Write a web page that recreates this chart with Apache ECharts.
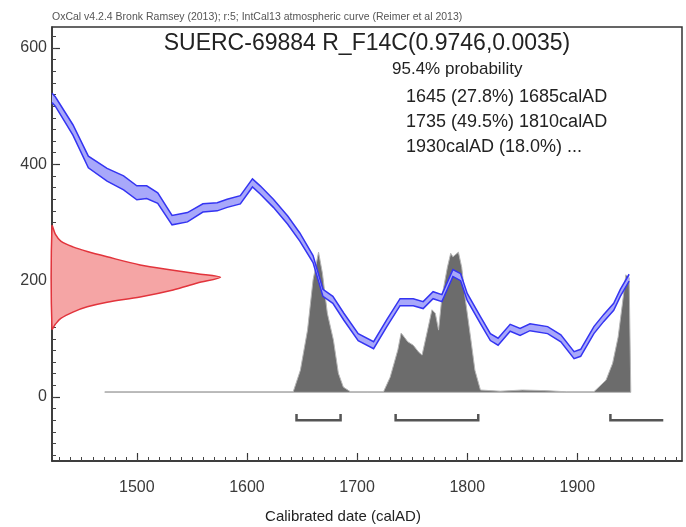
<!DOCTYPE html>
<html>
<head>
<meta charset="utf-8">
<script src="https://cdn.jsdelivr.net/npm/echarts@6/dist/echarts.min.js"></script>
<style>
  html, body { margin: 0; padding: 0; background: #fff; }
  #main { width: 686px; height: 527px; }
</style>
</head>
<body>
<div id="main"></div>
<script>
// calibration curve (IntCal13), 14C age BP
var calYears = [1423, 1426, 1442, 1456, 1473, 1488, 1500, 1509, 1519, 1532, 1546, 1560, 1573, 1582, 1594, 1605, 1612, 1624, 1637, 1648,
  1660, 1669, 1678, 1688, 1701, 1715, 1727, 1739, 1751, 1760, 1769, 1777, 1787, 1794, 1800, 1812, 1821, 1828, 1839, 1848,
  1857, 1873, 1885, 1897, 1903, 1915, 1924, 1933, 1939, 1947];
var calAge = [514, 508, 459, 404, 382, 368, 351, 352, 342, 304, 309, 325, 327, 333, 339, 368, 356, 333, 304, 275,
  237, 179, 167, 138, 103, 89, 127, 163, 163, 158, 175, 170, 213, 206, 172, 132, 103, 95, 119, 112,
  120, 115, 101, 72, 76, 115, 136, 155, 179, 205];
var calErr = [8, 8, 9, 10, 11, 12, 12, 11, 9, 8, 8, 7, 7, 7, 7, 7, 7, 7, 7, 7,
  6, 6, 6, 6, 6, 6, 6, 6, 6, 6, 6, 6, 6, 6, 6, 6, 6, 6, 6, 6,
  6, 6, 6, 6, 6, 6, 6, 6, 6, 6];

// measured date on the y axis (width in years from the left edge)
var redAge = [294, 280, 268, 258, 250, 241, 227, 218, 212, 206, 196, 184, 172, 163, 155, 146, 135, 125, 117];
var redWidth = [0, 3, 8, 19, 32, 50, 80, 110, 132, 153, 132, 110, 80, 50, 32, 19, 8, 3, 0];

// calibrated distribution (height in y units)
var histYears = [1471, 1642, 1648.5, 1655, 1660, 1665, 1668.5, 1673, 1678.5, 1683, 1687.5, 1694,
  1724, 1730, 1737, 1740, 1746, 1751, 1756, 1759, 1764, 1768, 1771, 1774, 1777, 1782, 1785, 1787, 1792, 1795, 1798, 1803, 1807, 1812,
  1830, 1850, 1870, 1890, 1915, 1926, 1932, 1937, 1941, 1944, 1947, 1948.5];
var histTop = [9, 9, 46, 115, 201, 249, 213, 144, 98, 41, 17, 9,
  9, 34, 81, 110, 95, 89, 77, 72, 115, 150, 144, 115, 172, 223, 247, 241, 249, 223, 172, 103, 46, 12,
  10, 12, 11, 9, 9, 29, 58, 103, 162, 210, 205, 9];
var histBase = 8;

// 95.4% ranges
var rangeStart = [1645, 1735, 1930];
var rangeEnd = [1685, 1810, 1978];
var rangeOpen = [false, false, true];
var rangeY = -40;

var xTickLabels = [1500, 1600, 1700, 1800, 1900];
var yTickLabels = [0, 200, 400, 600];
var xMin = 1423, xMax = 1995, yMin = -110, yMax = 636;

var xMinor = [], yMinor = [];
for (var t = 1430; t < xMax; t += 10) xMinor.push(t);
for (var v = -100; v < yMax; v += 20) yMinor.push(v);

var font = "'Liberation Sans', Arial, sans-serif";
var myChart = echarts.init(document.getElementById('main'));

function redItem(params, api) {
  if (params.dataIndex !== 0) return null;
  var pts = [];
  for (var i = 0; i < redAge.length; i++) pts.push(api.coord([xMin + redWidth[i], redAge[i]]));
  return {
    type: 'polygon',
    shape: { points: pts, smooth: 0.3 },
    style: { fill: '#f5a5a5', stroke: '#e2343c', lineWidth: 1.5 }
  };
}

function histItem(params, api) {
  if (params.dataIndex !== 0) return null;
  var pts = [];
  for (var i = 0; i < histYears.length; i++) pts.push(api.coord([histYears[i], histTop[i]]));
  pts.push(api.coord([histYears[histYears.length - 1], histBase]));
  pts.push(api.coord([histYears[0], histBase]));
  return {
    type: 'polygon',
    shape: { points: pts },
    style: { fill: '#6c6c6c', stroke: '#b5b5b5', lineWidth: 1 }
  };
}

function rangeItem(params, api) {
  var i = params.dataIndex;
  var a = api.coord([rangeStart[i], rangeY]);
  var b = api.coord([rangeEnd[i], rangeY]);
  var up = api.coord([rangeStart[i], rangeY + 11])[1];
  var pts = [[a[0], up], a, b];
  if (!rangeOpen[i]) pts.push([b[0], up]);
  return {
    type: 'polyline',
    shape: { points: pts },
    style: { fill: null, stroke: '#555', lineWidth: 2.5 }
  };
}

function curveItem(params, api) {
  if (params.dataIndex !== 0) return null;
  var upper = [], lower = [];
  for (var i = 0; i < calYears.length; i++) {
    upper.push(api.coord([calYears[i], calAge[i] + calErr[i]]));
    lower.push(api.coord([calYears[i], calAge[i] - calErr[i]]));
  }
  return {
    type: 'group',
    children: [
      { type: 'polygon', shape: { points: upper.concat(lower.slice().reverse()) }, style: { fill: '#a8a8fa' } },
      { type: 'polyline', shape: { points: upper }, style: { fill: null, stroke: '#3434f2', lineWidth: 1.5 } },
      { type: 'polyline', shape: { points: lower }, style: { fill: null, stroke: '#3434f2', lineWidth: 1.5 } }
    ]
  };
}

var axisCommon = {
  type: 'value',
  splitLine: { show: false },
  axisLine: { onZero: false, lineStyle: { color: '#333', width: 1.5 } }
};

function plain(val) { return String(val); }

var option = {
  animation: false,
  grid: { left: 52, right: 4, top: 27, bottom: 66, show: true, borderColor: '#333', borderWidth: 1.5 },
  xAxis: [
    Object.assign({}, axisCommon, {
      min: xMin, max: xMax, position: 'bottom',
      axisTick: { inside: true, length: 8, customValues: xTickLabels, lineStyle: { color: '#333', width: 1.2 } },
      axisLabel: { customValues: xTickLabels, formatter: plain, fontSize: 16, color: '#3a3a3a', margin: 19, fontFamily: font }
    }),
    Object.assign({}, axisCommon, {
      min: xMin, max: xMax, position: 'bottom',
      axisLine: { show: false, onZero: false },
      axisTick: { inside: true, length: 4, customValues: xMinor, lineStyle: { color: '#444', width: 1 } },
      axisLabel: { show: false }
    })
  ],
  yAxis: [
    Object.assign({}, axisCommon, {
      min: yMin, max: yMax, position: 'left',
      axisTick: { inside: true, length: 8, customValues: yTickLabels, lineStyle: { color: '#333', width: 1.2 } },
      axisLabel: { customValues: yTickLabels, formatter: plain, fontSize: 16, color: '#3a3a3a', margin: 5, fontFamily: font }
    }),
    Object.assign({}, axisCommon, {
      min: yMin, max: yMax, position: 'left',
      axisLine: { show: false, onZero: false },
      axisTick: { inside: true, length: 4, customValues: yMinor, lineStyle: { color: '#444', width: 1 } },
      axisLabel: { show: false }
    })
  ],
  graphic: [
    { type: 'text', left: 52, top: 12, style: { text: 'OxCal v4.2.4 Bronk Ramsey (2013); r:5; IntCal13 atmospheric curve (Reimer et al 2013)', fontSize: 10.5, fill: '#555', fontFamily: font } },
    { type: 'text', x: 367, y: 44, style: { text: 'SUERC-69884 R_F14C(0.9746,0.0035)', fontSize: 23, fill: '#222', fontFamily: font, align: 'center', verticalAlign: 'middle' } },
    { type: 'text', x: 392, y: 69, style: { text: '95.4% probability', fontSize: 17, fill: '#222', fontFamily: font, verticalAlign: 'middle' } },
    { type: 'text', x: 406, y: 97, style: { text: '1645 (27.8%) 1685calAD', fontSize: 18, fill: '#222', fontFamily: font, verticalAlign: 'middle' } },
    { type: 'text', x: 406, y: 122, style: { text: '1735 (49.5%) 1810calAD', fontSize: 18, fill: '#222', fontFamily: font, verticalAlign: 'middle' } },
    { type: 'text', x: 406, y: 147, style: { text: '1930calAD (18.0%) ...', fontSize: 18, fill: '#222', fontFamily: font, verticalAlign: 'middle' } },
    { type: 'text', x: 343, y: 517, style: { text: 'Calibrated date (calAD)', fontSize: 15, fill: '#222', fontFamily: font, align: 'center', verticalAlign: 'middle' } }
  ],
  series: [
    { type: 'custom', name: 'measured', renderItem: redItem, data: redAge.map(function (a, i) { return [xMin + redWidth[i], a]; }), z: 2 },
    { type: 'custom', name: 'calibrated', renderItem: histItem, data: histYears.map(function (y, i) { return [y, histTop[i]]; }), z: 3 },
    { type: 'custom', name: 'ranges', renderItem: rangeItem, data: rangeStart.map(function (s, i) { return [s, rangeY]; }), z: 4 },
    { type: 'custom', name: 'IntCal13', renderItem: curveItem, data: calYears.map(function (y, i) { return [y, calAge[i]]; }), z: 5 }
  ]
};

myChart.setOption(option);
window.onresize = function () {
  myChart.resize();
};
</script>
</body>
</html>
